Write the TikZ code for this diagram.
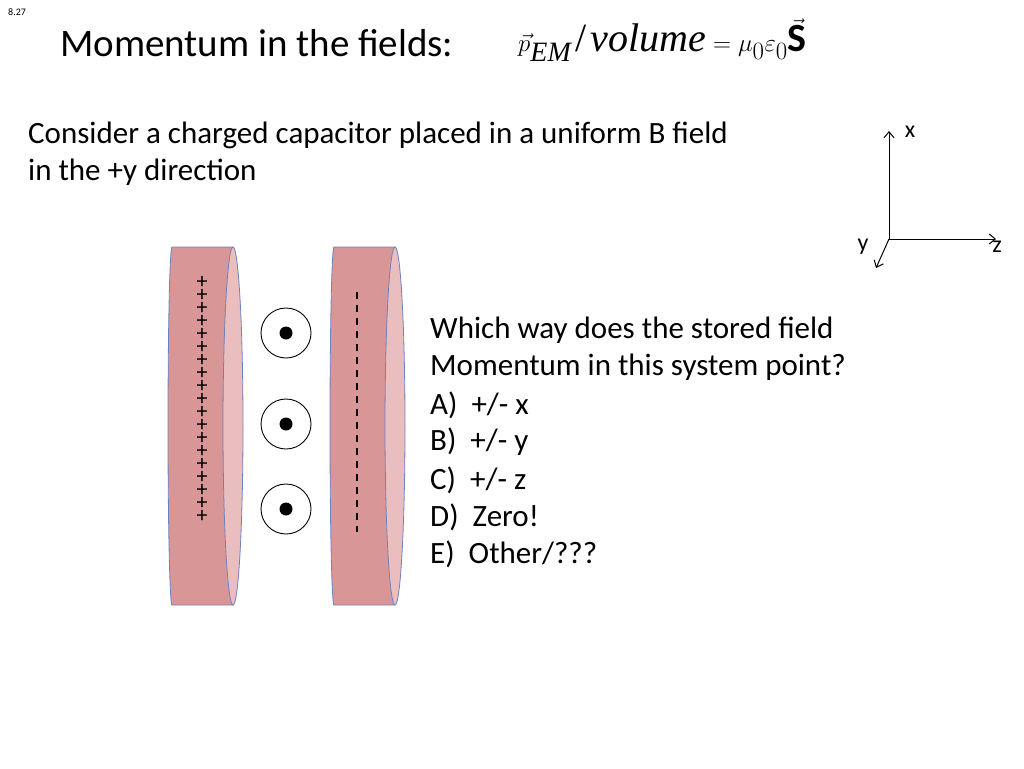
\documentclass[tikz,border=0pt]{standalone}
\usepackage{fontspec}
\setmainfont{Carlito}
\newfontfamily\tnr{Liberation Serif}
\usepackage{amsmath}
\usetikzlibrary{arrows.meta}
\begin{document}
\begin{tikzpicture}[x=1pt,y=-1pt,
  txt/.style={anchor=west, inner sep=0pt, font=\fontsize{31}{36}\selectfont},
  axl/.style={font=\fontsize{24}{24}\selectfont, inner sep=0pt},
  ax/.style={-{Straight Barb[length=6pt,width=10pt]}, line width=1pt}]
\useasboundingbox (0,0) rectangle (1024,768);
\definecolor{platec}{RGB}{216,150,150}
\definecolor{platel}{RGB}{234,190,190}
\definecolor{edgec}{RGB}{110,130,190}
\node[anchor=west, inner sep=0pt, font=\fontsize{10}{12}\selectfont] (num) at (8,12) {8.27};
\node[anchor=west, inner sep=0pt, font=\fontsize{39}{44}\selectfont] (title) at (60,43) {Momentum in the fields:};
\node[anchor=west, inner sep=0pt, font=\fontsize{40}{46}\selectfont] (eq) at (518,40) {$\vec{p}_{\text{\tnr\itshape EM}}\,\text{\tnr /}\,\text{\tnr\itshape volume}=\mu_0\varepsilon_0\vec{\mathbf{S}}$};
\node[txt] (t1) at (28,135) {Consider a charged capacitor placed in a uniform B field};
\node[txt] (t2) at (28,172) {in the +y direction};
% plates
\foreach \xx/\nm in {168/L,330/R}{
  \fill[platec, draw=edgec, line width=0.8pt]
    (\xx+65,247) -- (\xx+4,247) arc[start angle=-90,end angle=-270,x radius=4,y radius=179] -- (\xx+65,605);
  \filldraw[fill=platel, draw=edgec, line width=0.8pt] (\xx+65,426) ellipse[x radius=10,y radius=179];
  \coordinate (\nm) at (\xx,426);
}
\foreach \i in {0,...,18}{
  \node[inner sep=0pt, font=\fontsize{22}{22}\selectfont] (p\i) at (202,282+13*\i) {+};
}
\draw[dash pattern=on 7pt off 6pt, line width=1.3pt] (357,292) -- (357,532);
\foreach \yy/\nm in {333/a,424/b,509/c}{
  \node[circle, draw, line width=0.9pt, minimum size=50pt, inner sep=0pt] (c\nm) at (286,\yy) {};
  \fill (c\nm.center) circle (6.5pt);
}
\node[txt] (q1) at (430,330) {Which way does the stored field};
\node[txt] (q2) at (430,367) {Momentum in this system point?};
\node[txt] (q3) at (430,405) {A)\ \ +/- x};
\node[txt] (q4) at (430,442) {B)\ \ +/- y};
\node[txt] (q5) at (430,480) {C)\ \ +/- z};
\node[txt] (q6) at (430,517) {D)\ \ Zero!};
\node[txt] (q7) at (430,554) {E)\ \ Other/???};
% axes
\coordinate (o) at (889,239);
\coordinate (ex) at (889,131);
\coordinate (ez) at (996,239);
\coordinate (ey) at (876,268);
\draw[ax] (o) -- (ex);
\draw[ax] (o) -- (ez);
\draw[ax] (o) -- (ey);
\node[axl] (lx) at (910,132) {x};
\node[axl] (lz) at (997,247) {z};
\node[axl] (ly) at (863,247) {y};
\end{tikzpicture}
\end{document}
